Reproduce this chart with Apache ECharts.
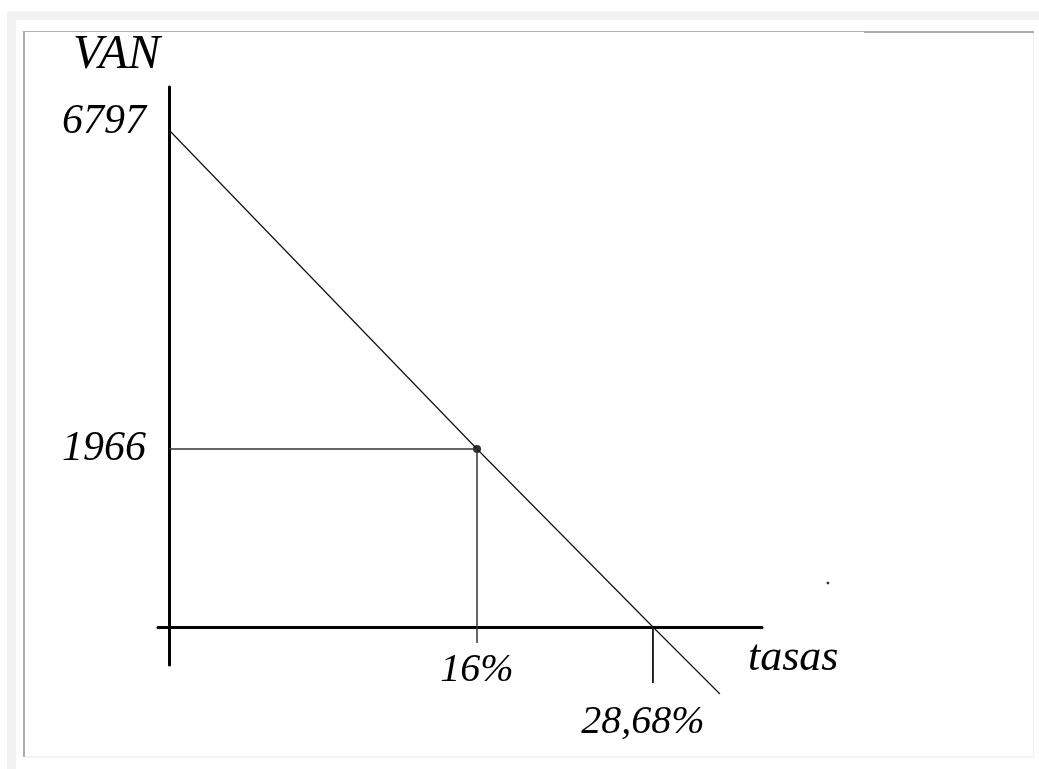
<!DOCTYPE html>
<html>
<head>
<meta charset="utf-8">
<script src="https://cdn.jsdelivr.net/npm/echarts@6/dist/echarts.min.js"></script>
<style>
  html, body { margin: 0; padding: 0; background: #ffffff; }
  #chart { width: 1039px; height: 769px; }
</style>
</head>
<body>
<div id="chart"></div>
<script>
// ---- Data (sketch units: the reference drawing is not to scale) ----
const rateTickValues = [16, 25.14];          // positions of the marked rates on the sketched axis
const rateTickLabels = ['16%', '28,68%'];
const vanTickValues = [2434, 6797];          // positions of the marked VAN values on the sketched axis
const vanTickLabels = ['1966', '6797'];
const vanLineX = [0, 16, 25.14, 28.62];      // VAN line vertices (rate)
const vanLineY = [6797, 2434, 0, -916];      // VAN line vertices (VAN)
const markedPoint = [16, 2434];              // VAN at 16%
const tickDropY = [-219, -766];              // how far each rate guide drops below the axis
const strayDot = [34.23, 602];

const FONT = '"Liberation Serif", "DejaVu Serif", serif';

function labelIndex(values, v) {
  let best = 0;
  for (let i = 1; i < values.length; i++) {
    if (Math.abs(values[i] - v) < Math.abs(values[best] - v)) best = i;
  }
  return best;
}

const chart = echarts.init(document.getElementById('chart'), null, { renderer: 'canvas' });

const option = {
  animation: false,
  backgroundColor: '#ffffff',
  graphic: [
    { type: 'rect', silent: true, z: -10, shape: { x: 7, y: 11, width: 1032, height: 758 }, style: { fill: '#f2f2f2' } },
    { type: 'rect', silent: true, z: -9, shape: { x: 16, y: 20, width: 1023, height: 749 }, style: { fill: '#ffffff' } },
    { type: 'rect', silent: true, z: -8, shape: { x: 23, y: 31, width: 841, height: 1 }, style: { fill: '#b4b4b4' } },
    { type: 'rect', silent: true, z: -8, shape: { x: 864, y: 31, width: 170, height: 2 }, style: { fill: '#acacac' } },
    { type: 'rect', silent: true, z: -8, shape: { x: 23, y: 31, width: 2, height: 726 }, style: { fill: '#acacac' } },
    { type: 'rect', silent: true, z: -8, shape: { x: 1033, y: 33, width: 1, height: 724 }, style: { fill: '#f0f0f0' } },
    { type: 'rect', silent: true, z: -8, shape: { x: 25, y: 756, width: 1009, height: 2 }, style: { fill: '#f2f2f2' } }
  ],
  grid: { left: 158, right: 277, top: 87, bottom: 104, containLabel: false, outerBoundsMode: 'none' },
  xAxis: {
    type: 'value',
    min: -0.5714,
    max: 30.805,
    splitLine: { show: false },
    axisTick: { show: false },
    axisLine: { show: true, onZero: true, lineStyle: { color: '#000', width: 3 } },
    axisLabel: {
      show: true,
      customValues: rateTickValues,
      margin: -21,
      fontFamily: FONT, fontStyle: 'italic', fontSize: 40, color: '#000',
      lineHeight: 52,
      formatter: function (v) {
        const i = labelIndex(rateTickValues, v);
        return i === 0 ? rateTickLabels[i] : '\n' + rateTickLabels[i] + '  ';
      }
    },
    name: 'tasas',
    nameLocation: 'end',
    nameGap: -14,
    nameTextStyle: {
      fontFamily: FONT, fontStyle: 'italic', fontSize: 44, color: '#000',
      align: 'left', verticalAlign: 'top', padding: [9, 0, 0, 0]
    }
  },
  yAxis: {
    type: 'value',
    min: -519.69,
    max: 7385.0,
    splitLine: { show: false },
    axisTick: { show: false },
    axisLine: { show: true, onZero: true, lineStyle: { color: '#000', width: 3 } },
    axisLabel: {
      show: true,
      customValues: vanTickValues,
      margin: 12,
      fontFamily: FONT, fontStyle: 'italic', fontSize: 42, color: '#000',
      formatter: function (v) {
        const i = labelIndex(vanTickValues, v);
        return i === 1 ? '{b|' + vanTickLabels[i] + '}' : vanTickLabels[i];
      },
      rich: {
        b: { fontFamily: FONT, fontStyle: 'italic', fontSize: 42, color: '#000', padding: [0, 0, 16, 0] }
      }
    },
    name: 'VAN',
    nameLocation: 'end',
    nameGap: 8,
    nameTextStyle: {
      fontFamily: FONT, fontStyle: 'italic', fontSize: 48, color: '#000',
      align: 'right', verticalAlign: 'bottom', padding: [0, 9, 0, 0]
    }
  },
  series: [
    {
      type: 'line', clip: false, symbol: 'none', silent: true,
      lineStyle: { color: '#111', width: 1.2 },
      data: vanLineX.map((x, i) => [x, vanLineY[i]])
    },
    {
      type: 'line', clip: false, symbol: 'none', silent: true,
      lineStyle: { color: '#333', width: 1.5 },
      data: [[0, markedPoint[1]], [markedPoint[0], markedPoint[1]], [markedPoint[0], tickDropY[0]]]
    },
    {
      type: 'line', clip: false, symbol: 'none', silent: true,
      lineStyle: { color: '#111', width: 1.8 },
      data: [[rateTickValues[1], 0], [rateTickValues[1], tickDropY[1]]]
    },
    {
      type: 'scatter', clip: false, silent: true, symbol: 'circle', symbolSize: 8,
      itemStyle: { color: '#000' },
      data: [markedPoint]
    },
    {
      type: 'scatter', clip: false, silent: true, symbol: 'rect', symbolSize: 2.5,
      itemStyle: { color: '#000' },
      data: [strayDot]
    }
  ]
};

chart.setOption(option);
</script>
</body>
</html>
